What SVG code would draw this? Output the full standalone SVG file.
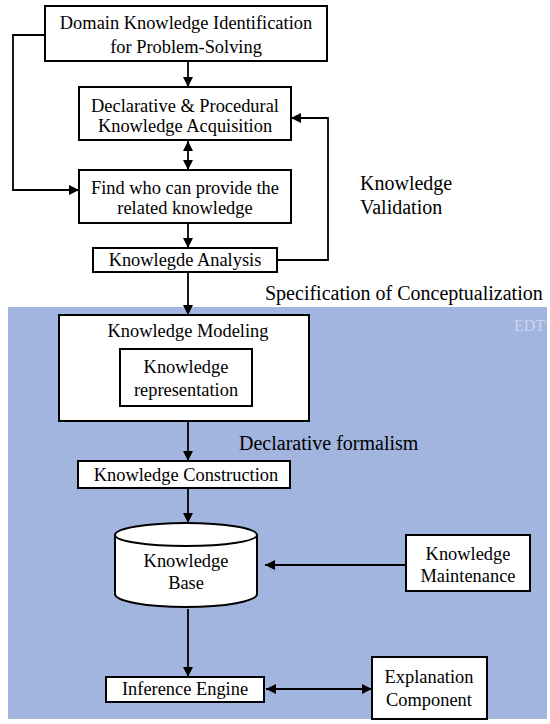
<svg xmlns="http://www.w3.org/2000/svg" width="550" height="724" viewBox="0 0 550 724">
<style>
.box{fill:#fff;stroke:#000;stroke-width:2}
.t{font-family:"Liberation Serif","Times New Roman",serif;font-size:18.4px;fill:#000}
.lbl{font-size:20px}
.c{text-anchor:middle}
.ln{fill:none;stroke:#000;stroke-width:1.8}
</style>
<defs>
<marker id="ah" viewBox="0 0 10 10" refX="10" refY="5" markerWidth="10" markerHeight="10" markerUnits="userSpaceOnUse" orient="auto-start-reverse">
<path d="M0,0 L10,5 L0,10 z" fill="#000"/>
</marker>
</defs>
<rect x="0" y="0" width="550" height="724" fill="#fff"/>
<rect id="background" x="8" y="307" width="539" height="412" fill="#a2b5de"/>
<text class="t" x="545" y="331" text-anchor="end" style="fill:#c9d5ef;font-size:16px">EDT</text>

<g id="connectors">
<path class="ln" d="M45,35 H13 V190 H79" marker-end="url(#ah)"/>
<path class="ln" d="M188,61 V87" marker-end="url(#ah)"/>
<path class="ln" d="M188,141 V170" marker-start="url(#ah)" marker-end="url(#ah)"/>
<path class="ln" d="M188,223 V248" marker-end="url(#ah)"/>
<path class="ln" d="M277,260 H328 V118 H291" marker-end="url(#ah)"/>
<path class="ln" d="M188,272 V315" marker-end="url(#ah)"/>
<path class="ln" d="M188,422 V461" marker-end="url(#ah)"/>
<path class="ln" d="M188,489 V523" marker-end="url(#ah)"/>
<path class="ln" d="M406,565 H265" marker-end="url(#ah)"/>
<path class="ln" d="M188,609 V677" marker-end="url(#ah)"/>
<path class="ln" d="M266,689 H372" marker-start="url(#ah)" marker-end="url(#ah)"/>
</g>
<text class="t lbl" x="360" y="190">Knowledge</text>
<text class="t lbl" x="360" y="214">Validation</text>
<text class="t lbl" x="265" y="300">Specification of Conceptualization</text>
<text class="t lbl" x="239" y="450">Declarative formalism</text>

<g id="domain">
<rect class="box" x="45" y="6" width="282" height="55"/>
<text class="t c" x="186" y="29">Domain Knowledge Identification</text>
<text class="t c" x="186" y="53">for Problem-Solving</text>
</g>
<g id="acquisition">
<rect class="box" x="79" y="87" width="212" height="53"/>
<text class="t c" x="185" y="112">Declarative &amp; Procedural</text>
<text class="t c" x="185" y="132">Knowledge Acquisition</text>
</g>
<g id="find">
<rect class="box" x="79" y="170" width="212" height="53"/>
<text class="t c" x="185" y="194">Find who can provide the</text>
<text class="t c" x="185" y="214">related knowledge</text>
</g>
<g id="analysis">
<rect class="box" x="93" y="248" width="184" height="24"/>
<text class="t c" x="185" y="266">Knowlegde Analysis</text>
</g>
<g id="modeling">
<rect class="box" x="59" y="315" width="250" height="106"/>
<text class="t c" x="188" y="337">Knowledge Modeling</text>
</g>
<g id="representation">
<rect class="box" x="120" y="349" width="132" height="57"/>
<text class="t c" x="186" y="373">Knowledge</text>
<text class="t c" x="186" y="396">representation</text>
</g>
<g id="construction">
<rect class="box" x="78" y="461" width="212" height="27"/>
<text class="t c" x="186" y="481">Knowledge Construction</text>
</g>
<g id="kb">
<path class="box" d="M115,535 V594 A71,13 0 0 0 257,594 V535 A71,12 0 0 0 115,535 Z"/>
<path class="ln" d="M115,535 A71,11 0 0 0 257,535" style="stroke-width:2"/>
<text class="t c" x="186" y="567">Knowledge</text>
<text class="t c" x="186" y="589">Base</text>
</g>
<g id="maintenance">
<rect class="box" x="406" y="535" width="124" height="56"/>
<text class="t c" x="468" y="560">Knowledge</text>
<text class="t c" x="468" y="582">Maintenance</text>
</g>
<g id="inference">
<rect class="box" x="106" y="677" width="158" height="25"/>
<text class="t c" x="185" y="695">Inference Engine</text>
</g>
<g id="explanation">
<rect class="box" x="372" y="657" width="115" height="62"/>
<text class="t c" x="429" y="683">Explanation</text>
<text class="t c" x="429" y="706">Component</text>
</g>
</svg>
